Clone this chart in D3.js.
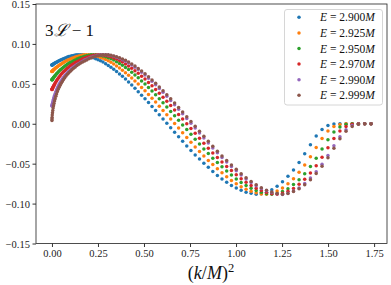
<!DOCTYPE html>
<html>
<head>
<meta charset="utf-8">
<script src="https://cdn.jsdelivr.net/npm/d3@7"></script>
<style>
  body { margin: 0; background: #fff; }
  svg { display: block; }
</style>
</head>
<body>
<div id="chart"></div>
<script>
// (k/M)^2 sample points, shared by every series
var kx = [0,0.0002,0.0007,0.0016,0.0028,0.0043,0.0062,0.0085,0.0111,0.0140,
  0.0173,0.0210,0.0250,0.0293,0.0340,0.0390,0.0444,0.0501,0.0562,0.0626,
  0.0693,0.0764,0.0839,0.0917,0.0998,0.1083,0.1172,0.1264,0.1359,0.1458,
  0.1560,0.1666,0.1775,0.1888,0.2004,0.2123,0.2246,0.2373,0.2503,0.2637,
  0.2773,0.2914,0.3058,0.3205,0.3356,0.3510,0.3668,0.3829,0.3994,0.4162,
  0.4334,0.4509,0.4687,0.4869,0.5055,0.5244,0.5436,0.5632,0.5831,0.6034,
  0.6240,0.6450,0.6663,0.6880,0.7100,0.7324,0.7551,0.7781,0.8015,0.8253,
  0.8494,0.8738,0.8986,0.9237,0.9492,0.9750,1.0012,1.0277,1.0546,1.0818,
  1.1094,1.1373,1.1656,1.1942,1.2231,1.2524,1.2821,1.3121,1.3424,1.3731,
  1.4041,1.4355,1.4672,1.4993,1.5317,1.5644,1.5975,1.6310,1.6648,1.6989,1.7334];

var e2900 = [0.0735,0.0735,0.0736,0.0738,0.0740,0.0742,0.0745,0.0749,0.0753,0.0757,
  0.0761,0.0766,0.0771,0.0777,0.0783,0.0789,0.0795,0.0801,0.0808,0.0815,
  0.0821,0.0828,0.0835,0.0841,0.0846,0.0851,0.0856,0.0860,0.0864,0.0865,
  0.0865,0.0863,0.0859,0.0854,0.0847,0.0838,0.0827,0.0815,0.0801,0.0789,
  0.0772,0.0752,0.0731,0.0707,0.0682,0.0654,0.0624,0.0594,0.0560,0.0522,
  0.0484,0.0444,0.0402,0.0358,0.0314,0.0265,0.0216,0.0165,0.0113,0.0060,
  0.0005,-0.0049,-0.0105,-0.0162,-0.0220,-0.0278,-0.0334,-0.0390,-0.0443,-0.0495,
  -0.0546,-0.0597,-0.0647,-0.0692,-0.0734,-0.0772,-0.0806,-0.0833,-0.0857,-0.0872,
  -0.0883,-0.0878,-0.0857,-0.0827,-0.0783,-0.0727,-0.0659,-0.0578,-0.0486,-0.0377,
  -0.0262,-0.0155,-0.0073,-0.0023,-0.0004,0,0,0,0,0,0];

var e2925 = [0.0656,0.0656,0.0657,0.0659,0.0662,0.0665,0.0669,0.0675,0.0680,0.0686,
  0.0693,0.0700,0.0707,0.0715,0.0723,0.0732,0.0740,0.0749,0.0758,0.0767,
  0.0778,0.0787,0.0794,0.0802,0.0811,0.0819,0.0828,0.0836,0.0843,0.0849,
  0.0855,0.0860,0.0864,0.0865,0.0865,0.0861,0.0856,0.0850,0.0841,0.0830,
  0.0819,0.0805,0.0788,0.0769,0.0748,0.0724,0.0697,0.0671,0.0640,0.0607,
  0.0572,0.0535,0.0497,0.0455,0.0412,0.0367,0.0320,0.0271,0.0220,0.0167,
  0.0113,0.0058,0.0002,-0.0054,-0.0112,-0.0171,-0.0231,-0.0290,-0.0347,-0.0405,
  -0.0459,-0.0511,-0.0563,-0.0615,-0.0665,-0.0710,-0.0751,-0.0789,-0.0819,-0.0846,
  -0.0865,-0.0879,-0.0883,-0.0867,-0.0841,-0.0804,-0.0750,-0.0690,-0.0608,-0.0517,
  -0.0414,-0.0297,-0.0185,-0.0091,-0.0035,-0.0009,-0.0001,0,0,0,0];

var e2950 = [0.0550,0.0551,0.0552,0.0555,0.0559,0.0565,0.0571,0.0579,0.0586,0.0595,
  0.0605,0.0615,0.0626,0.0637,0.0648,0.0660,0.0672,0.0682,0.0696,0.0708,
  0.0720,0.0732,0.0745,0.0757,0.0767,0.0778,0.0789,0.0799,0.0810,0.0820,
  0.0829,0.0837,0.0846,0.0853,0.0859,0.0864,0.0865,0.0865,0.0860,0.0855,
  0.0848,0.0838,0.0827,0.0813,0.0797,0.0777,0.0756,0.0733,0.0706,0.0678,
  0.0645,0.0611,0.0575,0.0537,0.0497,0.0454,0.0410,0.0363,0.0314,0.0263,
  0.0211,0.0155,0.0100,0.0043,-0.0015,-0.0073,-0.0133,-0.0194,-0.0255,-0.0315,
  -0.0374,-0.0431,-0.0485,-0.0539,-0.0591,-0.0643,-0.0691,-0.0735,-0.0774,-0.0809,
  -0.0837,-0.0859,-0.0876,-0.0884,-0.0874,-0.0849,-0.0813,-0.0762,-0.0700,-0.0625,
  -0.0535,-0.0433,-0.0317,-0.0201,-0.0103,-0.0040,-0.0009,-0.0001,0,0,0];

var e2970 = [0.0429,0.0430,0.0433,0.0438,0.0444,0.0452,0.0461,0.0471,0.0483,0.0496,
  0.0510,0.0524,0.0539,0.0555,0.0570,0.0587,0.0602,0.0619,0.0635,0.0650,
  0.0665,0.0681,0.0696,0.0711,0.0725,0.0739,0.0753,0.0766,0.0777,0.0790,
  0.0801,0.0813,0.0823,0.0833,0.0843,0.0850,0.0857,0.0862,0.0865,0.0865,
  0.0861,0.0856,0.0848,0.0838,0.0825,0.0811,0.0793,0.0773,0.0749,0.0724,
  0.0695,0.0665,0.0632,0.0596,0.0559,0.0518,0.0475,0.0429,0.0382,0.0332,
  0.0281,0.0228,0.0172,0.0116,0.0058,-0.0001,-0.0059,-0.0120,-0.0182,-0.0244,
  -0.0306,-0.0365,-0.0423,-0.0479,-0.0534,-0.0587,-0.0640,-0.0689,-0.0733,-0.0773,
  -0.0808,-0.0836,-0.0860,-0.0876,-0.0884,-0.0872,-0.0847,-0.0811,-0.0758,-0.0695,
  -0.0618,-0.0526,-0.0421,-0.0301,-0.0186,-0.0091,-0.0033,-0.0007,0,0,0];

var e2990 = [0.0221,0.0224,0.0230,0.0241,0.0253,0.0268,0.0287,0.0308,0.0331,0.0353,
  0.0376,0.0402,0.0426,0.0449,0.0471,0.0494,0.0516,0.0538,0.0559,0.0580,
  0.0601,0.0621,0.0640,0.0658,0.0676,0.0694,0.0711,0.0727,0.0742,0.0756,
  0.0771,0.0784,0.0797,0.0809,0.0821,0.0832,0.0842,0.0850,0.0857,0.0863,
  0.0865,0.0865,0.0860,0.0854,0.0845,0.0834,0.0820,0.0803,0.0784,0.0762,
  0.0737,0.0709,0.0679,0.0645,0.0610,0.0571,0.0531,0.0488,0.0442,0.0394,
  0.0344,0.0292,0.0238,0.0182,0.0125,0.0067,0.0006,-0.0054,-0.0115,-0.0178,
  -0.0240,-0.0303,-0.0363,-0.0422,-0.0479,-0.0534,-0.0588,-0.0642,-0.0691,-0.0736,
  -0.0776,-0.0811,-0.0839,-0.0862,-0.0877,-0.0885,-0.0869,-0.0842,-0.0806,-0.0749,
  -0.0681,-0.0601,-0.0507,-0.0397,-0.0276,-0.0163,-0.0075,-0.0022,-0.0004,0,0];

var e2999 = [0.0040,0.0058,0.0079,0.0110,0.0137,0.0167,0.0198,0.0226,0.0255,0.0284,
  0.0314,0.0345,0.0373,0.0403,0.0431,0.0457,0.0482,0.0507,0.0530,0.0553,
  0.0576,0.0597,0.0619,0.0639,0.0658,0.0677,0.0695,0.0712,0.0729,0.0745,
  0.0760,0.0774,0.0787,0.0800,0.0813,0.0824,0.0835,0.0844,0.0852,0.0860,
  0.0865,0.0865,0.0863,0.0858,0.0850,0.0840,0.0828,0.0812,0.0794,0.0773,
  0.0749,0.0722,0.0693,0.0661,0.0626,0.0588,0.0548,0.0506,0.0461,0.0414,
  0.0364,0.0312,0.0259,0.0203,0.0146,0.0087,0.0028,-0.0032,-0.0093,-0.0156,
  -0.0220,-0.0282,-0.0344,-0.0403,-0.0461,-0.0517,-0.0571,-0.0626,-0.0677,-0.0723,
  -0.0765,-0.0801,-0.0832,-0.0856,-0.0874,-0.0884,-0.0875,-0.0850,-0.0815,-0.0764,
  -0.0700,-0.0623,-0.0532,-0.0426,-0.0307,-0.0189,-0.0093,-0.0033,-0.0006,0,0];

var energies = ["2.900", "2.925", "2.950", "2.970", "2.990", "2.999"];
var seriesValues = [e2900, e2925, e2950, e2970, e2990, e2999];
var colors = ["#1f77b4", "#ff7f0e", "#2ca02c", "#d62728", "#9467bd", "#8c564b"];
var xTicks = [0, 0.25, 0.5, 0.75, 1.0, 1.25, 1.5, 1.75];
var yTicks = [-0.15, -0.10, -0.05, 0.00, 0.05, 0.10, 0.15];

var W = 391, H = 285;
var margin = {left: 36, right: 4, top: 4, bottom: 41.5};
var serif = "'Liberation Serif', 'DejaVu Serif', serif";

var svg = d3.select("#chart").append("svg")
  .attr("width", W).attr("height", H);

var x = d3.scaleLinear()
  .domain([-0.0867, 1.8201])
  .range([margin.left, W - margin.right]);
var y = d3.scaleLinear()
  .domain([-0.15, 0.15])
  .range([H - margin.bottom, margin.top]);

// dots, blue first so brown ends on top
seriesValues.forEach(function(vals, s) {
  svg.append("g")
    .selectAll("circle")
    .data(vals)
    .enter().append("circle")
      .attr("cx", function(d, i) { return x(kx[i]); })
      .attr("cy", function(d) { return y(d); })
      .attr("r", 1.75)
      .attr("fill", colors[s]);
});

var fmt = d3.format(".2f");

var gx = svg.append("g")
  .attr("transform", "translate(0," + (H - margin.bottom) + ")")
  .call(d3.axisBottom(x).tickValues(xTicks).tickFormat(fmt).tickSizeOuter(0).tickSize(3.5).tickPadding(3));
var gy = svg.append("g")
  .attr("transform", "translate(" + margin.left + ",0)")
  .call(d3.axisLeft(y).tickValues(yTicks).tickFormat(fmt).tickSizeOuter(0).tickSize(3.5).tickPadding(2.5));

[gx, gy].forEach(function(g) {
  g.select(".domain").remove();
  g.selectAll("line").attr("stroke", "#000").attr("stroke-width", 0.8);
  g.selectAll("text").attr("font-family", serif).attr("font-size", 10.5).attr("fill", "#222");
});
// keep the top label inside the picture
gy.selectAll("text").attr("dy", "0.36em");

// frame
svg.append("rect")
  .attr("x", margin.left).attr("y", margin.top)
  .attr("width", W - margin.left - margin.right)
  .attr("height", H - margin.top - margin.bottom)
  .attr("fill", "none").attr("stroke", "#222").attr("stroke-width", 0.8);

// panel label
var title = svg.append("text")
  .attr("x", 45).attr("y", 36)
  .attr("font-family", serif).attr("font-size", 17).attr("fill", "#111");
title.append("tspan").text("3");
title.append("tspan").attr("font-family", "'DejaVu Serif', serif").attr("font-style", "italic").text("ℒ");
title.append("tspan").text(" − 1");

// x label
var xl = svg.append("text")
  .attr("x", 211).attr("y", 279)
  .attr("text-anchor", "middle")
  .attr("font-family", serif).attr("font-size", 18).attr("fill", "#111");
xl.append("tspan").text("(");
xl.append("tspan").attr("font-style", "italic").text("k");
xl.append("tspan").text("/");
xl.append("tspan").attr("font-style", "italic").text("M");
xl.append("tspan").text(")");
xl.append("tspan").attr("font-size", 12.5).attr("dy", -7.5).text("2");

// legend
var lg = svg.append("g");
lg.append("rect")
  .attr("x", 284.5).attr("y", 9.5).attr("width", 98).attr("height", 95.5)
  .attr("rx", 2.5).attr("fill", "#fff").attr("fill-opacity", 0.8)
  .attr("stroke", "#ccc").attr("stroke-width", 0.8);
energies.forEach(function(e, i) {
  var cy = 17.3 + i * 15.6;
  lg.append("circle").attr("cx", 299).attr("cy", cy).attr("r", 1.75).attr("fill", colors[i]);
  var t = lg.append("text")
    .attr("x", 320).attr("y", cy + 4)
    .attr("font-family", serif).attr("font-size", 11.5).attr("fill", "#111");
  t.append("tspan").attr("font-style", "italic").text("E");
  t.append("tspan").text(" = " + e);
  t.append("tspan").attr("font-style", "italic").text("M");
});
</script>
</body>
</html>
